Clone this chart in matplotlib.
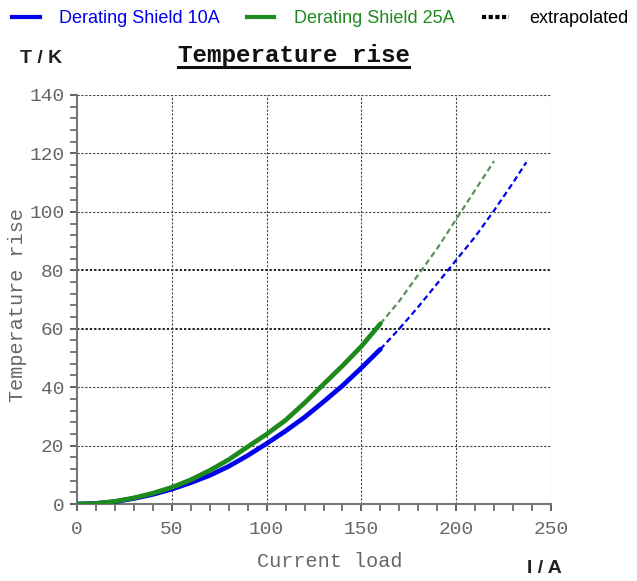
import matplotlib
matplotlib.use("Agg")
import matplotlib.pyplot as plt
from matplotlib.ticker import MultipleLocator
from matplotlib.lines import Line2D

# measured data
current_meas = [0, 10, 20, 30, 40, 50, 60, 70, 80, 90, 100, 110, 120, 130, 140, 150, 160]
temp_10A = [0, 0.2, 0.8, 1.9, 3.3, 5.1, 7.3, 9.8, 12.9, 16.6, 20.7, 25.0, 29.7, 35.0, 40.5, 46.6, 53.0]
temp_25A = [0, 0.2, 0.9, 2.1, 3.7, 5.7, 8.3, 11.5, 15.2, 19.6, 23.9, 28.7, 34.6, 41.0, 47.3, 54.0, 61.7]

# extrapolated data
current_ext_10A = [160, 170, 180, 190, 200, 210, 220, 230, 237]
temp_ext_10A = [53.0, 60.0, 67.5, 75.5, 83.5, 91.5, 100.5, 110.0, 117.0]
current_ext_25A = [160, 170, 180, 190, 200, 210, 220]
temp_ext_25A = [61.7, 69.5, 78.5, 87.5, 97.5, 107.5, 117.4]

x_ticks = [0, 50, 100, 150, 200, 250]
y_ticks = [0, 20, 40, 60, 80, 100, 120, 140]

legend_labels = ["Derating Shield 10A", "Derating Shield 25A", "extrapolated"]

BLUE = "#0000ee"
GREEN = "#1e8a1e"
GREEN_EXT = "#5b8f5b"
GRAY = "#666666"
MONO = "Liberation Mono"
SANS = "Liberation Sans"

fig = plt.figure(figsize=(6.37, 5.81), dpi=100)
ax = fig.add_axes([0.121, 0.1325, 0.744, 0.704])

ax.set_xlim(0, 250)
ax.set_ylim(0, 140)

# grid lines
for y in y_ticks[1:]:
    if y in (60, 80):
        ax.axhline(y, color="#222222", lw=1.4, ls=(0, (1.2, 1)), zorder=1)
    else:
        ax.axhline(y, color="#444444", lw=0.8, ls=(0, (2, 1.5)), zorder=1)
for x in x_ticks[1:]:
    ax.axvline(x, color="#444444", lw=0.8, ls=(0, (2, 1.5)), zorder=1)

# curves
ax.plot(current_ext_10A, temp_ext_10A, color=BLUE, lw=1.6, ls=(0, (2.6, 1.6)), zorder=3)
ax.plot(current_ext_25A, temp_ext_25A, color=GREEN_EXT, lw=1.6, ls=(0, (2.6, 1.6)), zorder=3)
ax.plot(current_meas, temp_10A, color=BLUE, lw=3.4, solid_capstyle="round", zorder=4)
ax.plot(current_meas, temp_25A, color=GREEN, lw=3.4, solid_capstyle="round", zorder=4)

# spines
for s in ("top", "right"):
    ax.spines[s].set_visible(False)
for s in ("left", "bottom"):
    ax.spines[s].set_color("#777777")
    ax.spines[s].set_linewidth(1.5)

ax.set_xticks(x_ticks)
ax.set_yticks(y_ticks)
ax.xaxis.set_minor_locator(MultipleLocator(10))
ax.yaxis.set_minor_locator(MultipleLocator(4))
ax.tick_params(axis="both", which="major", direction="out", length=5, width=1.3,
               color="#555555", labelcolor=GRAY, labelsize=14, pad=4)
ax.tick_params(axis="both", which="minor", direction="out", length=5, width=1.1,
               color="#555555")
ax.tick_params(axis="x", which="major", pad=7)
for lab in ax.get_xticklabels() + ax.get_yticklabels():
    lab.set_fontfamily(MONO)

ax.set_xlabel("Current load", fontfamily=MONO, fontsize=14.5, color=GRAY, labelpad=10, x=0.534)
ax.set_ylabel("Temperature rise", fontfamily=MONO, fontsize=14.5, color=GRAY, labelpad=2, y=0.487)

# title, underlined
fig.text(0.461, 0.905, "Temperature rise", fontfamily=MONO, fontsize=17.5,
         fontweight="bold", color="#111111", ha="center", va="center")
fig.add_artist(Line2D([0.279, 0.642], [0.885, 0.885], color="#111111", lw=2.2,
                      transform=fig.transFigure))

fig.text(0.031, 0.9, "T / K", fontfamily=SANS, fontsize=14, fontweight="bold",
         color="#222222", ha="left", va="center")
fig.text(0.827, 0.022, "I / A", fontfamily=SANS, fontsize=14, fontweight="bold",
         color="#222222", ha="left", va="center")

# legend
handles = [
    Line2D([], [], color=BLUE, lw=3),
    Line2D([], [], color=GREEN, lw=3),
    Line2D([], [], color="black", lw=3, ls=(0, (1, 0.6))),
]
leg = fig.legend(handles, legend_labels, loc="upper left", bbox_to_anchor=(-0.006, 1.01),
                 ncol=3, frameon=False, prop={"family": SANS, "size": 13},
                 handlelength=1.5, handletextpad=1.1, columnspacing=1.5)
for txt, c in zip(leg.get_texts(), [BLUE, GREEN, "black"]):
    txt.set_color(c)

fig.savefig("out.png", dpi=100)
